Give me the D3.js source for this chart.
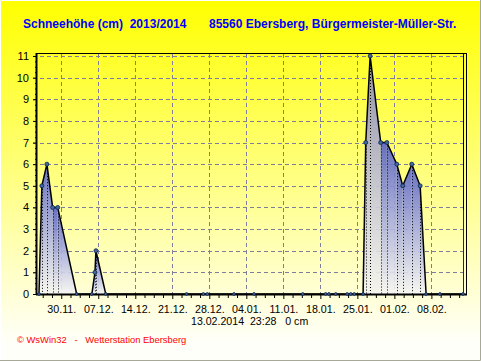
<!DOCTYPE html>
<html>
<head>
<meta charset="utf-8">
<script src="https://cdn.jsdelivr.net/npm/d3@7"></script>
<style>
    html, body { margin: 0; padding: 0; background: #fff; }
    svg { display: block; }
    text { font-family: "Liberation Sans", Arial, sans-serif; white-space: pre; }
</style>
</head>
<body>
<svg width="481" height="361"></svg>
<script>
const dates = [
    '2013-11-25T19:00', '2013-11-26T08:00', '2013-11-27T07:00', '2013-11-28T09:00', '2013-11-29T08:00',
    '2013-12-02T22:00', '2013-12-05T19:00', '2013-12-06T09:00', '2013-12-06T13:30', '2013-12-08T10:00',
    '2013-12-23T17:00', '2013-12-26T21:00', '2013-12-27T15:00', '2014-01-01T16:00', '2014-01-05T11:00',
    '2014-01-14T16:00', '2014-01-19T00:00', '2014-01-19T15:00', '2014-01-20T22:00', '2014-01-23T02:00',
    '2014-01-23T18:00', '2014-01-24T10:00', '2014-01-26T02:00', '2014-01-26T14:00', '2014-01-27T10:00',
    '2014-01-29T10:00', '2014-01-30T14:00', '2014-02-01T11:00', '2014-02-02T14:00', '2014-02-04T07:00',
    '2014-02-05T21:00', '2014-02-07T00:00', '2014-02-09T15:00', '2014-02-13T23:28'
]
const snow = [
    0, 5, 6, 4, 4,
    0, 0, 1, 2, 0,
    0, 0, 0, 0, 0,
    0, 0, 0, 0, 0,
    0, 0, 0, 7, 11,
    7, 7, 6, 5, 6,
    5, 0, 0, 0
]
const xTickDates = ['2013-11-30', '2013-12-07', '2013-12-14', '2013-12-21', '2013-12-28', '2014-01-04',
    '2014-01-11', '2014-01-18', '2014-01-25', '2014-02-01', '2014-02-08']
const xTickLabels = ['30.11.', '07.12.', '14.12.', '21.12.', '28.12.', '04.01.',
    '11.01.', '18.01.', '25.01.', '01.02.', '08.02.']
const yTicks = [0, 1, 2, 3, 4, 5, 6, 7, 8, 9, 10, 11]
const xStart = '2013-11-25T10:00'
const xEnd = '2014-02-13T23:28'
const greyUntil = '2014-01-29T10:00'

const titleLeft = 'Schneehöhe (cm)  2013/2014'
const titleRight = '85560 Ebersberg, Bürgermeister-Müller-Str.'
const currentLine = '13.02.2014  23:28   0 cm'
const footer = '© WsWin32   -   Wetterstation Ebersberg'

const svg = d3.select('svg')
const width = +svg.attr('width')
const height = +svg.attr('height')

const data = dates.map((d, i) => ({ date: new Date(d), value: snow[i] }))

const left = 37
const right = 463
const top0 = 56
const bottom = 294

const xScale = d3.scaleTime()
    .domain([new Date(xStart), new Date(xEnd)])
    .range([left, right])
const yScale = d3.scaleLinear()
    .domain([0, 11])
    .range([bottom, top0])

const defs = svg.append('defs')

const bg = defs.append('linearGradient')
    .attr('id', 'bg').attr('x1', 0).attr('y1', 0).attr('x2', 0).attr('y2', 1)
bg.append('stop').attr('offset', 0).attr('stop-color', '#ffff00')
bg.append('stop').attr('offset', 0.95).attr('stop-color', '#fffffa')

const blueFill = defs.append('linearGradient')
    .attr('id', 'blueFill').attr('x1', 0).attr('y1', 0).attr('x2', 0).attr('y2', 1)
blueFill.append('stop').attr('offset', 0).attr('stop-color', '#5660c8')
blueFill.append('stop').attr('offset', 1).attr('stop-color', '#f6f6f4')

const greyFill = defs.append('linearGradient')
    .attr('id', 'greyFill').attr('x1', 0).attr('y1', 0).attr('x2', 0).attr('y2', 1)
greyFill.append('stop').attr('offset', 0).attr('stop-color', '#8484b8')
greyFill.append('stop').attr('offset', 1).attr('stop-color', '#f4f4f0')

// background with the raised window edge
svg.append('rect').attr('width', width).attr('height', height).attr('fill', 'url(#bg)')
svg.append('path')
    .attr('d', `M0.5,${height - 1}V0.5H${width - 1}`)
    .attr('fill', 'none').attr('stroke', '#fff')
svg.append('path')
    .attr('d', `M${width - 0.5},0V${height - 0.5}H0`)
    .attr('fill', 'none').attr('stroke', '#a8a898')

// grid
const gridColor = '#7e7e9a'
svg.append('g').selectAll('line').data(yTicks).enter().append('line')
    .attr('x1', left - 4).attr('x2', right + 3)
    .attr('y1', d => Math.round(yScale(d)) + 0.5).attr('y2', d => Math.round(yScale(d)) + 0.5)
    .attr('stroke', gridColor).attr('stroke-dasharray', '4,3')
svg.append('g').selectAll('line').data(xTickDates).enter().append('line')
    .attr('x1', d => Math.round(xScale(new Date(d))) + 0.5).attr('x2', d => Math.round(xScale(new Date(d))) + 0.5)
    .attr('y1', top0 - 2).attr('y2', bottom)
    .attr('stroke', gridColor).attr('stroke-dasharray', '4,3')

// one filled piece between each pair of readings
const areaGenerator = d3.area()
    .x(d => xScale(d.date))
    .y0(bottom)
    .y1(d => yScale(d.value))

const segments = d3.pairs(data).filter(p => p[0].value > 0 || p[1].value > 0)
svg.append('g').selectAll('path').data(segments).enter().append('path')
    .attr('d', areaGenerator)
    .attr('fill', p => p[1].date <= new Date(greyUntil) && p[1].date >= new Date('2014-01-26') ? 'url(#greyFill)' : 'url(#blueFill)')
    .attr('fill-opacity', 0.9)

// drop lines
svg.append('g').selectAll('line').data(data.filter(d => d.value > 0)).enter().append('line')
    .attr('x1', d => Math.round(xScale(d.date)) + 0.5).attr('x2', d => Math.round(xScale(d.date)) + 0.5)
    .attr('y1', d => yScale(d.value)).attr('y2', bottom)
    .attr('stroke', '#000').attr('stroke-dasharray', '1,2')

const lineGenerator = d3.line()
    .x(d => xScale(d.date))
    .y(d => yScale(d.value))

svg.append('path')
    .attr('d', lineGenerator(data))
    .attr('fill', 'none')
    .attr('stroke', '#000')
    .attr('stroke-width', 1.5)

// frame
svg.append('line').attr('x1', left).attr('x2', right + 3).attr('y1', top0 - 2.5).attr('y2', top0 - 2.5).attr('stroke', '#000')
svg.append('line').attr('x1', right + 0.5).attr('x2', right + 0.5).attr('y1', top0 - 3).attr('y2', 210).attr('stroke', '#000')
svg.append('line').attr('x1', right + 0.5).attr('x2', right + 0.5).attr('y1', 210).attr('y2', bottom).attr('stroke', '#1414d8')
svg.append('line').attr('x1', right + 3.5).attr('x2', right + 3.5).attr('y1', top0 - 3).attr('y2', bottom).attr('stroke', '#000')

// axes, labels drawn by d3 with the tick lines kept short
const yAxis = d3.axisLeft(yScale)
    .tickValues(d3.range(0, 11.01, 0.25))
    .tickSize(0)
    .tickFormat(d => Number.isInteger(d) ? d : '')
const yAxisG = svg.append('g')
    .attr('transform', `translate(${left},0)`)
    .call(yAxis)
yAxisG.select('.domain').remove()
yAxisG.selectAll('.tick line')
    .attr('x2', d => Number.isInteger(d) ? -4 : -2)
    .attr('stroke', '#000')
yAxisG.selectAll('text')
    .attr('x', -8)
    .attr('font-size', 11)
    .attr('font-family', null)
    .attr('fill', '#000')

const xLabels = new Map(xTickDates.map((d, i) => [+new Date(d), xTickLabels[i]]))
const minorTicks = d3.range(-2, 44).map(i => d3.timeHour.offset(new Date(xTickDates[0]), i * 42))
    .filter(d => d >= xScale.domain()[0] && d <= xScale.domain()[1])
const xAxis = d3.axisBottom(xScale)
    .tickValues(minorTicks)
    .tickSize(0)
    .tickFormat(d => xLabels.get(+d) || '')
const xAxisG = svg.append('g')
    .attr('transform', `translate(0,${bottom})`)
    .call(xAxis)
xAxisG.select('.domain').remove()
xAxisG.selectAll('.tick line')
    .attr('y2', d => xLabels.has(+d) ? 5 : 4)
    .attr('stroke', '#000')
xAxisG.selectAll('text')
    .attr('y', 11)
    .attr('font-size', 10.7)
    .attr('font-family', null)
    .attr('fill', '#000')

svg.append('line').attr('x1', left - 0.5).attr('x2', left - 0.5).attr('y1', top0 - 3).attr('y2', bottom + 1)
    .attr('stroke', '#000').attr('stroke-width', 2)
svg.append('line').attr('x1', left - 1).attr('x2', right + 4).attr('y1', bottom + 0.5).attr('y2', bottom + 0.5)
    .attr('stroke', '#000').attr('stroke-width', 2)

// markers
svg.append('g').selectAll('circle').data(data).enter().append('circle')
    .attr('cx', d => xScale(d.date))
    .attr('cy', d => yScale(d.value))
    .attr('r', d => d.value > 0 ? 2 : 1.4)
    .attr('fill', '#3c6a9c')
    .attr('stroke', '#10204a')
    .attr('stroke-width', 0.8)

// texts
svg.append('text').attr('x', 23).attr('y', 28)
    .attr('font-size', 12).attr('font-weight', 'bold').attr('fill', '#0000ff').text(titleLeft)
svg.append('text').attr('x', 209).attr('y', 28)
    .attr('font-size', 12).attr('font-weight', 'bold').attr('fill', '#0000ff').text(titleRight)
svg.append('text').attr('x', 191).attr('y', 325)
    .attr('font-size', 10.6).attr('fill', '#000').text(currentLine)
svg.append('text').attr('x', 17).attr('y', 343)
    .attr('font-size', 9.4).attr('fill', '#ff0000').text(footer)
</script>
</body>
</html>
